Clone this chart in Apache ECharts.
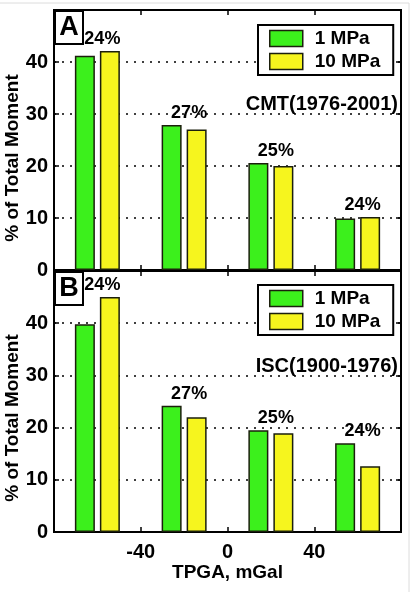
<!DOCTYPE html>
<html>
<head>
<meta charset="utf-8">
<script src="https://cdn.jsdelivr.net/npm/echarts@6/dist/echarts.min.js"></script>
<style>
  html, body { margin: 0; padding: 0; background: #fff; }
  #chart { width: 412px; height: 592px; }
</style>
</head>
<body>
<div id="chart"></div>
<script>
  // TPGA bin centres (mGal)
  const tpga = ['-60', '-20', '20', '60'];
  // panel A, CMT (1976-2001)
  const cmt1 = [41.2, 27.9, 20.6, 9.9];
  const cmt10 = [42.1, 27.0, 20.0, 10.2];
  const cmtPct = ['24%', '27%', '25%', '24%'];
  // panel B, ISC (1900-1976)
  const isc1 = [39.8, 24.2, 19.5, 17.0];
  const isc10 = [45.0, 22.0, 18.9, 12.6];
  const iscPct = ['24%', '27%', '25%', '24%'];
  const xTicks = [-40, 0, 40];

  const font = '"Liberation Sans", Arial, Helvetica, sans-serif';
  const green = '#3cf01c';
  const yellow = '#f6f51e';

  const myChart = echarts.init(document.getElementById('chart'));

  function catAxis(gi) {
    return {
      type: 'category', gridIndex: gi, position: 'top', data: tpga,
      boundaryGap: true,
      axisLine: { onZero: false, lineStyle: { color: '#000', width: 2 } },
      axisTick: { show: true, inside: true, length: 5, lineStyle: { color: '#000', width: 1.5 } },
      axisLabel: { show: false }
    };
  }
  function valXAxis(gi, showLabels) {
    return {
      type: 'value', gridIndex: gi, position: 'bottom',
      min: -80, max: 80, interval: 40,
      axisLine: { onZero: false, lineStyle: { color: '#000', width: 2 } },
      axisTick: { show: true, inside: true, length: 5, lineStyle: { color: '#000', width: 1.5 } },
      splitLine: { show: false },
      axisLabel: {
        show: showLabels, margin: 10,
        color: '#000', fontFamily: font, fontWeight: 'bold', fontSize: 20,
        formatter: v => xTicks.indexOf(v) >= 0 ? String(v) : ''
      },
      name: showLabels ? 'TPGA, mGal' : '',
      nameLocation: 'middle', nameGap: 31,
      nameTextStyle: { color: '#000', fontFamily: font, fontWeight: 'bold', fontSize: 19 }
    };
  }
  function leftY(gi) {
    return {
      type: 'value', gridIndex: gi, position: 'left',
      min: 0, max: 50, interval: 10,
      axisLine: { show: true, onZero: false, lineStyle: { color: '#000', width: 2 } },
      axisTick: { show: true, inside: true, length: 5, lineStyle: { color: '#000', width: 1.5 } },
      axisLabel: {
        margin: 6, color: '#000', fontFamily: font, fontWeight: 'bold', fontSize: 20,
        formatter: v => v < 50 ? String(v) : ''
      },
      splitLine: { show: true, lineStyle: { color: '#000', width: 1.5, type: [2, 6] } }
    };
  }
  function rightY(gi) {
    return {
      type: 'value', gridIndex: gi, position: 'right',
      min: 0, max: 50, interval: 10,
      axisLine: { show: true, onZero: false, lineStyle: { color: '#000', width: 2 } },
      axisTick: { show: true, inside: true, length: 5, lineStyle: { color: '#000', width: 1.5 } },
      axisLabel: { show: false },
      splitLine: { show: false }
    };
  }
  function bars(name, data, color, gi) {
    return {
      name: name, type: 'bar', xAxisIndex: gi * 2, yAxisIndex: gi * 2,
      data: data, barWidth: 20, barGap: '25%',
      itemStyle: { color: color, borderColor: '#1b1f0c', borderWidth: 1.5 }
    };
  }
  function pctLabels(a, b, pct, gi) {
    return {
      type: 'scatter', xAxisIndex: gi * 2, yAxisIndex: gi * 2,
      symbolSize: 0, silent: true,
      itemStyle: { opacity: 1 },
      data: tpga.map((c, i) => [i, Math.max(a[i], b[i])]),
      label: {
        show: true, position: 'top', distance: 3, offset: [5, 0], opacity: 1,
        color: '#000', fontFamily: font, fontWeight: 'bold', fontSize: 18,
        formatter: p => pct[p.dataIndex]
      }
    };
  }
  function legendBox(top) {
    return {
      data: ['1 MPa', '10 MPa'], orient: 'vertical', left: 258, top: top,
      padding: [4, 13, 4, 11], itemWidth: 33, itemHeight: 16, itemGap: 4,
      icon: 'rect', borderColor: '#000', borderWidth: 2, backgroundColor: '#fff',
      itemStyle: { borderColor: '#1b1f0c', borderWidth: 1.5 },
      textStyle: { color: '#000', fontFamily: font, fontWeight: 'bold', fontSize: 19, padding: [0, 0, 0, 7] },
      selectedMode: false
    };
  }
  function panelTag(letter, y) {
    return {
      type: 'group', left: 54, top: y,
      children: [
        { type: 'rect', shape: { x: 0, y: 0, width: 28, height: 33 },
          style: { fill: '#fff', stroke: '#000', lineWidth: 2 } },
        { type: 'text', x: 14, y: 17,
          style: { text: letter, fill: '#000', font: 'bold 27px ' + font, textAlign: 'center', textVerticalAlign: 'middle' } }
      ]
    };
  }
  function yName(y) {
    return {
      type: 'text', x: 13, y: y, rotation: Math.PI / 2,
      style: { text: '% of Total Moment', fill: '#000', font: 'bold 19px ' + font, textAlign: 'center', textVerticalAlign: 'middle' }
    };
  }

  let option = {
    animation: false,
    backgroundColor: '#fff',
    grid: [
      { left: 54, top: 10, width: 347, height: 260, show: true, borderColor: '#000', borderWidth: 2 },
      { left: 54, top: 271, width: 347, height: 261, show: true, borderColor: '#000', borderWidth: 2 }
    ],
    xAxis: [catAxis(0), valXAxis(0, false), catAxis(1), valXAxis(1, true)],
    yAxis: [leftY(0), rightY(0), leftY(1), rightY(1)],
    legend: [legendBox(25), legendBox(285)],
    series: [
      bars('1 MPa', cmt1, green, 0),
      bars('10 MPa', cmt10, yellow, 0),
      pctLabels(cmt1, cmt10, cmtPct, 0),
      bars('1 MPa', isc1, green, 1),
      bars('10 MPa', isc10, yellow, 1),
      pctLabels(isc1, isc10, iscPct, 1)
    ],
    graphic: [
      // faint frame of the scanned figure
      { type: 'line', shape: { x1: 0, y1: 3, x2: 409, y2: 3 }, style: { stroke: '#dcdcdc', lineWidth: 1 } },
      { type: 'line', shape: { x1: 409, y1: 3, x2: 409, y2: 592 }, style: { stroke: '#dcdcdc', lineWidth: 1 } },
      panelTag('A', 10),
      panelTag('B', 271),
      { type: 'text', right: 14, top: 94,
        style: { text: 'CMT(1976-2001)', fill: '#000', font: 'bold 20px ' + font } },
      { type: 'text', right: 14, top: 356,
        style: { text: 'ISC(1900-1976)', fill: '#000', font: 'bold 20px ' + font } },
      yName(158),
      yName(418)
    ]
  };
  myChart.setOption(option);
</script>
</body>
</html>
